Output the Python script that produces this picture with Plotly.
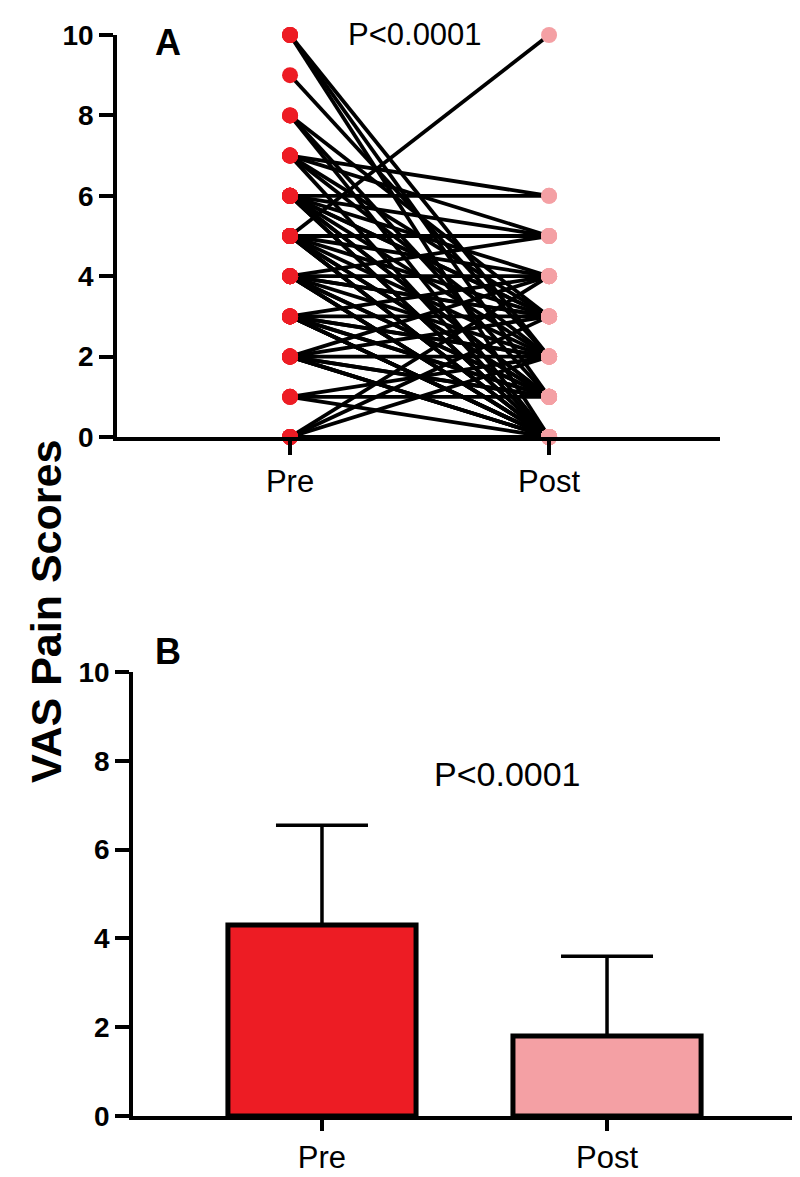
import plotly.graph_objects as go

# ---- Data ----
categories = ["Pre", "Post"]

# Panel A: paired VAS scores (pairing estimated)
pre_scores = [10, 10, 10,
              9,
              8, 8, 8,
              7, 7, 7, 7, 7,
              6, 6, 6, 6, 6, 6, 6, 6, 6, 6,
              5, 5, 5, 5, 5, 5, 5, 5, 5, 5,
              4, 4, 4, 4, 4, 4, 4, 4, 4, 4,
              3, 3, 3, 3, 3, 3, 3, 3, 3, 3,
              2, 2, 2, 2, 2, 2, 2, 2,
              1, 1, 1,
              0, 0, 0, 0, 0]
post_scores = [0, 1, 2,
               2,
               0, 3, 1,
               6, 5, 3, 2, 0,
               6, 5, 4, 3, 3, 2, 1, 1, 0, 0,
               10, 5, 4, 3, 2, 1, 1, 0, 0, 0,
               5, 4, 3, 3, 2, 1, 1, 0, 0, 0,
               4, 3, 2, 2, 1, 1, 0, 0, 0, 0,
               4, 3, 2, 1, 1, 0, 0, 0,
               2, 1, 0,
               4, 3, 2, 0, 0]

# Panel B: mean and SD
bar_means = [4.3, 1.8]
bar_sd = [2.25, 1.8]

y_ticks = [0, 2, 4, 6, 8, 10]
p_text = "P<0.0001"

# ---- Styling ----
FONT = "Liberation Sans, Arial, sans-serif"
RED = "#ED1C24"
PINK = "#F4A0A4"
OFF = 8  # page body margin
W, H = 800 - OFF, 1177 - OFF


def px_x(px):
    return (px - OFF) / W


def px_y(py):
    return 1 - (py - OFF) / H


fig = go.Figure()

# Panel A lines
lx, ly = [], []
for a, b in zip(pre_scores, post_scores):
    lx += [categories[0], categories[1], None]
    ly += [a, b, None]
fig.add_trace(go.Scatter(x=lx, y=ly, mode="lines",
                         line=dict(color="black", width=3.8),
                         xaxis="x", yaxis="y", showlegend=False,
                         cliponaxis=False, hoverinfo="skip"))
fig.add_trace(go.Scatter(x=[categories[0]] * len(pre_scores), y=pre_scores,
                         mode="markers", marker=dict(color=RED, size=16),
                         xaxis="x", yaxis="y", showlegend=False, cliponaxis=False))
fig.add_trace(go.Scatter(x=[categories[1]] * len(post_scores), y=post_scores,
                         mode="markers", marker=dict(color=PINK, size=16),
                         xaxis="x", yaxis="y", showlegend=False, cliponaxis=False))

# Panel B bars
fig.add_trace(go.Bar(x=categories, y=bar_means,
                     marker=dict(color=[RED, PINK], line=dict(color="black", width=5)),
                     width=0.66,
                     error_y=dict(type="data", array=bar_sd, arrayminus=[0, 0],
                                  color="black", thickness=3.5, width=46),
                     xaxis="x2", yaxis="y2", showlegend=False))

axis_common = dict(showgrid=False, zeroline=False, showline=True, automargin=False,
                   linecolor="black", linewidth=3.5, ticks="outside",
                   tickcolor="black", tickwidth=3.5, ticklen=14)

x2_common = dict(axis_common)
x2_common["ticklen"] = 11

fig.update_layout(
    width=W, height=H,
    margin=dict(l=0, r=0, t=0, b=0, pad=0, autoexpand=False),
    paper_bgcolor="white", plot_bgcolor="white",
    showlegend=False,
    xaxis=dict(**axis_common, domain=[px_x(117), px_x(720)],
               type="category", categoryorder="array", categoryarray=categories,
               range=[-0.668, 1.66], anchor="y",
               tickfont=dict(family=FONT, size=31, color="black")),
    yaxis=dict(**axis_common, domain=[px_y(437), px_y(35)], range=[0, 10],
               tickvals=y_ticks, anchor="x", layer="below traces",
               tickfont=dict(family=FONT, size=28, color="black", weight="bold")),
    xaxis2=dict(**x2_common, domain=[px_x(133), px_x(798)],
                type="category", categoryorder="array", categoryarray=categories,
                range=[-0.663, 1.67], anchor="y2",
                tickfont=dict(family=FONT, size=31, color="black")),
    yaxis2=dict(**axis_common, domain=[px_y(1116), px_y(672)], range=[0, 10],
                tickvals=y_ticks, anchor="x2",
                tickfont=dict(family=FONT, size=28, color="black", weight="bold")),
    annotations=[
        dict(text="A", x=px_x(153), y=px_y(20), xref="paper", yref="paper",
             showarrow=False, font=dict(family=FONT, size=36, color="black", weight="bold")),
        dict(text="B", x=px_x(153), y=px_y(651), xref="paper", yref="paper",
             showarrow=False, font=dict(family=FONT, size=36, color="black", weight="bold")),
        dict(text=p_text, x=px_x(415), y=px_y(15), xref="paper", yref="paper",
             showarrow=False, font=dict(family=FONT, size=31, color="black")),
        dict(text=p_text, x=px_x(508), y=px_y(795), xref="paper", yref="paper",
             showarrow=False, font=dict(family=FONT, size=34, color="black")),
        dict(text="VAS Pain Scores", x=px_x(20), y=px_y(612), xref="paper", yref="paper",
             showarrow=False, textangle=-90,
             font=dict(family=FONT, size=43, color="black", weight="bold")),
    ],
)

fig.write_html("out.html")
